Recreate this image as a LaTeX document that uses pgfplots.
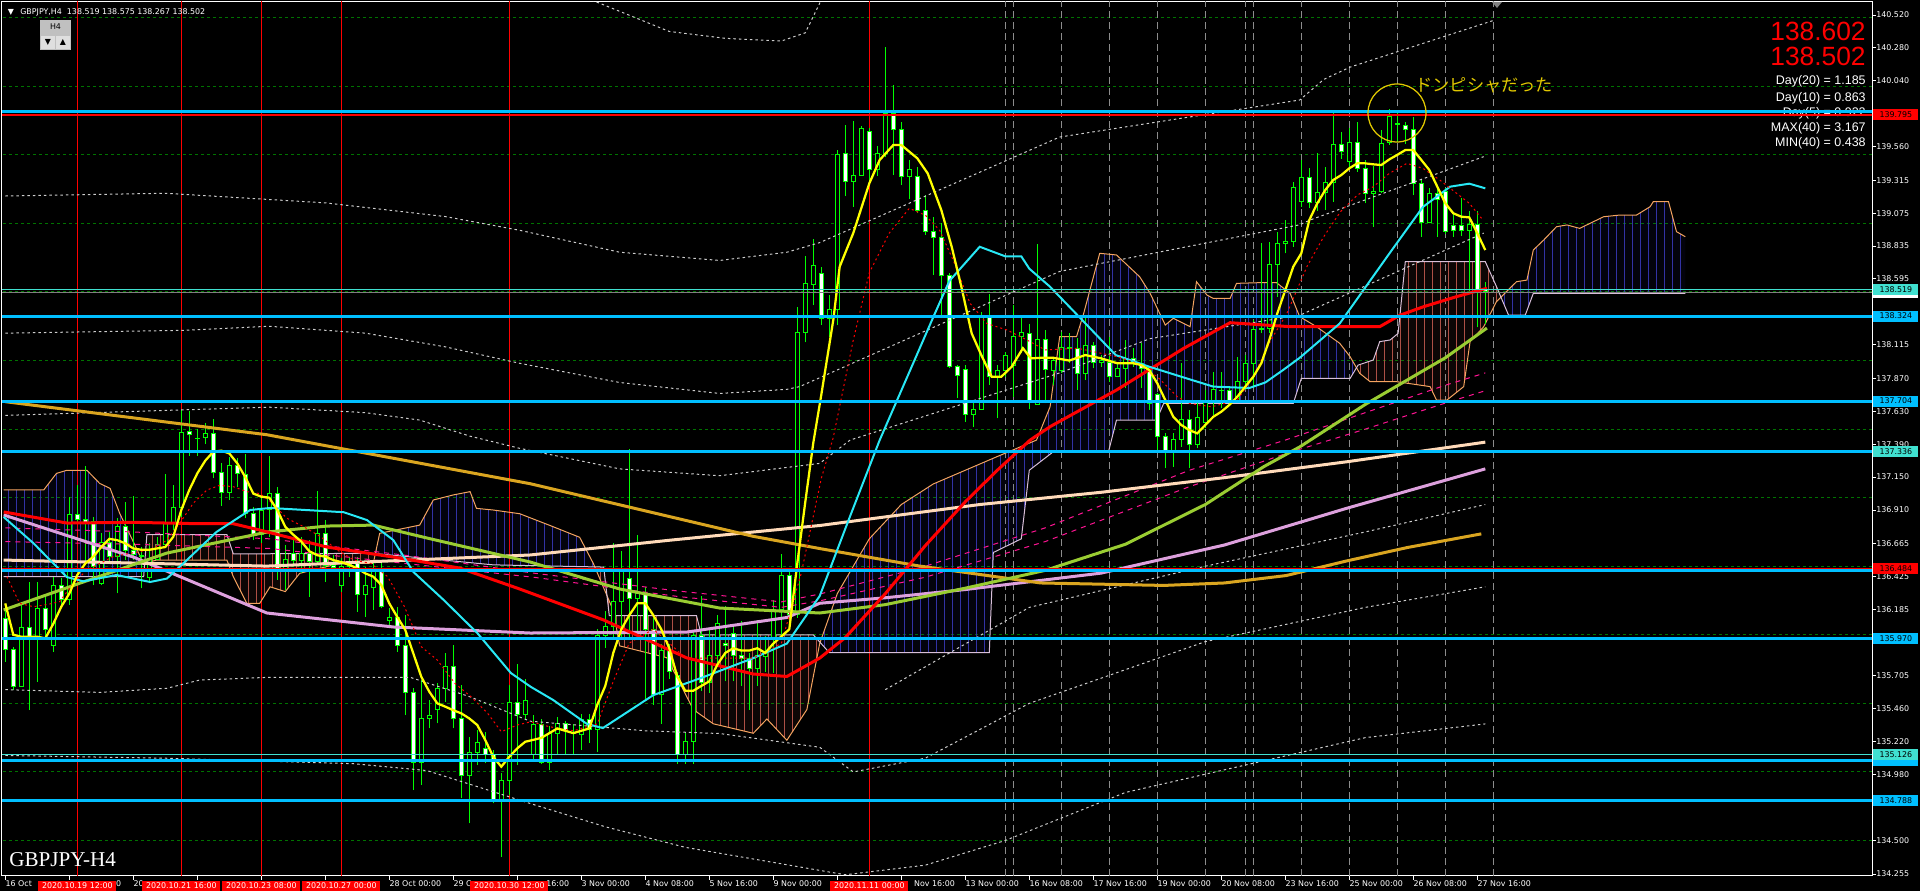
\documentclass[border=0pt]{standalone}
\usepackage{fontspec}
\setmainfont{DejaVu Sans}
\newfontfamily\arialf{Liberation Sans}
\newfontfamily\timesf{Liberation Serif}
\newfontfamily\jpf{Noto Sans CJK JP}
\usepackage{pgfplots}
\usepackage{pgfplotstable}
\pgfplotsset{compat=1.18}
\usetikzlibrary{patterns.meta}

\definecolor{wick}{RGB}{0,255,0}
\definecolor{ma5}{RGB}{255,255,0}
\definecolor{macy}{RGB}{40,232,245}
\definecolor{olive2}{RGB}{154,205,50}
\definecolor{gold2}{RGB}{218,165,32}
\definecolor{peach}{RGB}{255,218,185}
\definecolor{plum2}{RGB}{221,160,221}
\definecolor{dpink}{RGB}{255,20,147}
\definecolor{spanA}{RGB}{244,164,96}
\definecolor{spanB}{RGB}{216,191,216}
\definecolor{kumoblue}{RGB}{50,50,165}
\definecolor{kumored}{RGB}{175,80,70}
\definecolor{hcyan}{RGB}{0,191,255}
\definecolor{turq}{RGB}{64,224,208}
\definecolor{gridg}{RGB}{0,115,0}
\definecolor{bbw}{RGB}{205,205,205}
\definecolor{sepgray}{RGB}{140,140,140}
\definecolor{jpy}{RGB}{225,200,0}
\definecolor{boxgray}{RGB}{192,192,192}

\newcommand{\tickf}{\fontsize{4.5}{5}\selectfont}

% H4 candles: bar index, open, high, low, close
\pgfplotstableread{
i o h l c
0 136.120 136.181 135.804 135.894
1 135.894 135.913 135.597 135.626
2 135.626 136.229 135.622 136.054
3 136.052 136.387 135.451 135.986
4 135.986 136.387 135.658 136.193
5 136.193 136.278 135.986 136.035
6 135.925 136.424 135.877 136.358
7 136.358 136.412 136.205 136.258
8 136.258 137.007 136.217 136.878
9 136.878 137.092 136.813 136.842
10 136.842 137.231 136.521 136.818
11 136.825 136.861 136.363 136.497
12 136.375 136.740 136.363 136.674
13 136.674 136.752 136.521 136.570
14 136.570 136.849 136.302 136.788
15 136.788 136.966 136.545 136.618
16 136.618 137.012 136.545 136.582
17 136.574 136.643 136.339 136.580
18 136.419 136.667 136.375 136.557
19 136.550 136.716 136.545 136.655
20 136.655 137.173 136.643 136.818
21 136.818 137.092 136.764 136.929
22 136.929 137.639 136.861 137.476
23 137.484 137.632 137.304 137.462
24 137.435 137.498 137.304 137.428
25 137.440 137.542 137.391 137.469
26 137.469 137.571 137.141 137.182
27 137.182 137.250 136.942 137.036
28 137.036 137.299 136.983 137.238
29 137.238 137.287 137.075 137.177
30 137.172 137.318 136.849 136.886
31 136.886 136.934 136.691 136.735
32 136.735 137.007 136.667 136.910
33 136.915 137.304 136.716 137.032
34 137.032 137.080 136.400 136.472
35 136.472 136.655 136.327 136.550
36 136.594 136.691 136.497 136.540
37 136.540 136.716 136.448 136.594
38 136.594 136.691 136.278 136.533
39 136.533 137.049 136.509 136.740
40 136.740 136.837 136.387 136.504
41 136.506 136.582 136.485 136.492
42 136.361 136.558 136.314 136.497
43 136.497 136.570 136.424 136.521
44 136.521 136.570 136.169 136.297
45 136.297 136.497 136.132 136.356
46 136.346 136.533 136.181 136.477
47 136.477 136.545 136.193 136.205
48 136.103 136.193 136.047 136.127
49 136.127 136.205 135.877 135.923
50 135.923 136.144 135.415 135.580
51 135.580 135.609 134.868 135.072
52 135.072 135.670 134.904 135.391
53 135.391 135.524 135.318 135.415
54 135.456 135.646 135.354 135.609
55 135.609 135.865 135.512 135.767
56 135.767 135.925 135.318 135.391
57 135.391 135.634 134.807 134.977
58 134.977 135.257 134.625 135.143
59 135.143 135.306 135.050 135.213
60 135.172 135.293 135.062 135.128
61 135.128 135.160 134.771 134.788
62 134.788 134.990 134.379 134.941
63 134.941 135.634 134.831 135.505
64 135.505 135.787 135.050 135.420
65 135.420 135.675 135.379 135.520
66 135.128 135.413 135.093 135.345
67 135.345 135.386 135.059 135.069
68 135.069 135.334 135.014 135.283
69 135.283 135.403 135.128 135.352
70 135.352 135.369 135.128 135.300
71 135.283 135.352 135.128 135.290
72 135.276 135.420 135.162 135.379
73 135.379 135.420 135.214 135.310
74 135.310 136.040 135.145 135.998
75 135.998 136.177 135.902 136.057
76 136.057 136.666 135.971 136.246
77 136.246 136.608 135.971 136.480
78 136.411 137.354 135.971 136.263
79 136.263 136.728 135.971 136.298
80 136.298 136.349 135.523 136.040
81 136.040 136.126 135.489 135.565
82 135.565 135.936 135.352 135.885
83 135.885 135.936 135.678 135.730
84 135.702 135.730 135.059 135.128
85 135.128 135.283 135.059 135.221
86 135.221 136.022 135.059 135.998
87 135.998 136.281 135.592 135.654
88 135.654 136.040 135.575 135.850
89 135.850 136.143 135.782 136.081
90 135.936 136.212 135.661 135.919
91 136.012 136.057 135.661 135.850
92 135.850 136.101 135.627 135.826
93 135.826 135.868 135.455 135.757
94 135.757 136.108 135.627 135.850
95 135.840 135.988 135.730 135.874
96 135.964 136.253 135.723 136.184
97 136.184 136.590 135.971 136.435
98 136.435 136.487 136.108 136.150
99 136.150 138.387 136.126 138.201
100 138.201 138.765 138.132 138.559
101 138.556 138.884 138.405 138.694
102 138.636 138.685 138.259 138.308
103 138.308 138.478 138.174 138.369
104 138.369 139.535 138.259 139.504
105 139.511 139.718 139.200 139.305
106 139.305 139.747 139.122 139.353
107 139.353 139.710 139.346 139.693
108 139.669 139.693 139.280 139.390
109 139.390 139.565 139.346 139.511
110 139.511 140.284 139.482 139.803
111 139.803 140.010 139.353 139.686
112 139.686 139.742 139.280 139.341
113 139.341 139.463 139.178 139.390
114 139.341 139.414 139.078 139.093
115 139.093 139.207 138.916 138.940
116 138.940 139.049 138.624 138.899
117 138.899 139.001 138.308 138.617
118 138.617 138.636 137.943 137.955
119 137.955 137.967 137.724 137.890
120 137.936 137.967 137.554 137.603
121 137.603 137.712 137.518 137.644
122 137.644 138.356 137.639 138.313
123 138.313 138.485 137.822 137.887
124 137.882 137.967 137.578 137.926
125 137.926 138.065 137.882 138.040
126 137.967 138.405 137.736 138.179
127 138.174 138.325 138.053 138.206
128 138.198 138.266 137.644 137.693
129 137.683 138.850 137.676 138.155
130 138.155 138.223 137.688 137.936
131 137.931 138.028 137.822 138.004
132 137.926 138.210 137.907 138.096
133 138.096 138.203 137.979 138.089
134 138.089 138.162 137.785 137.907
135 137.907 138.320 137.858 138.113
136 138.108 138.137 137.943 137.987
137 137.987 138.040 137.955 138.004
138 137.987 138.169 137.846 137.887
139 137.887 137.979 137.877 137.943
140 137.943 138.150 137.797 138.016
141 138.016 138.089 137.955 137.992
142 137.979 138.125 137.797 137.943
143 137.948 137.955 137.639 137.688
144 137.753 137.761 137.335 137.445
145 137.445 137.469 137.214 137.328
146 137.328 137.469 137.226 137.425
147 137.425 137.979 137.372 137.571
148 137.571 137.639 137.214 137.391
149 137.391 137.712 137.360 137.586
150 137.547 137.785 137.505 137.693
151 137.693 137.919 137.603 137.790
152 137.780 137.919 137.651 137.785
153 137.780 137.809 137.676 137.712
154 137.712 138.028 137.700 137.846
155 137.846 138.040 137.785 137.979
156 137.979 138.296 137.809 138.227
157 138.223 138.855 138.198 138.235
158 138.235 138.867 138.198 138.697
159 138.697 138.940 138.466 138.855
160 138.855 139.025 138.782 138.867
161 138.867 139.304 138.830 139.263
162 139.159 139.463 139.122 139.336
163 139.336 139.402 139.110 139.151
164 139.151 139.511 139.093 139.224
165 139.224 139.414 139.098 139.297
166 139.297 139.815 139.159 139.577
167 139.577 139.669 139.470 139.528
168 139.455 139.693 139.407 139.591
169 139.591 139.742 139.377 139.402
170 139.402 139.463 139.147 139.215
171 139.215 139.421 138.976 139.232
172 139.232 139.681 139.219 139.584
173 139.589 139.832 139.572 139.783
174 139.720 139.808 139.596 139.730
175 139.713 139.737 139.579 139.686
176 139.686 139.774 139.207 139.288
177 139.288 139.317 138.903 139.006
178 139.006 139.256 139.001 139.215
179 139.215 139.256 138.903 139.176
180 139.232 139.256 138.923 138.940
181 138.984 139.086 138.903 138.947
182 138.984 139.183 138.908 138.952
183 138.952 139.091 138.510 138.993
184 138.993 139.091 138.242 138.515
185 138.519 138.575 138.267 138.502
}\candles

\pgfplotsset{
  mt4/.style={
    scale only axis, width=374mm, height=174.8mm,
    at={(0.4mm,3mm)}, anchor=south west,
    xmin=-0.41, xmax=233.34, ymin=134.241, ymax=140.615,
  },
  hidden/.style={mt4, hide axis},
  kumo/.style={draw=none,fill=#1,fill opacity=0.08,
    postaction={pattern={Lines[angle=90,distance=1.6mm,line width=0.2mm]},pattern color=#1}},
}

\begin{document}
\begin{tikzpicture}
\fill[black] (0,0) rectangle (384mm,178.2mm);

% frame, grid, separators, ichimoku cloud, wicks
\begin{axis}[mt4,
  axis line style={white,line width=0.2mm},
  xtick={0,8,...,184},
  xticklabels={16 Oct,\hphantom{19 Oct 08:0}0,20,,,,28 Oct 00:00,29 O,\hphantom{30 Oct }16:00,3 Nov 00:00,4 Nov 08:00,5 Nov 16:00,9 Nov 00:00,,\hphantom{11 }Nov 16:00,13 Nov 00:00,16 Nov 08:00,17 Nov 16:00,19 Nov 00:00,20 Nov 08:00,23 Nov 16:00,25 Nov 00:00,26 Nov 08:00,27 Nov 16:00},
  ytick={134.255,134.5,134.98,135.22,135.46,135.705,136.185,136.425,136.665,136.91,137.15,137.39,137.63,137.87,138.115,138.595,138.835,139.075,139.315,139.56,140.04,140.28,140.52},
  scaled y ticks=false,
  xtick pos=bottom, ytick pos=right, yticklabel pos=right,
  tick align=outside, major tick length=0.8mm,
  tick style={white,line width=0.2mm},
  tick label style={font=\tickf,text=white},
  xticklabel style={anchor=north west,inner sep=0pt},
  yticklabel style={anchor=west,inner sep=0pt,/pgf/number format/fixed,/pgf/number format/fixed zerofill,/pgf/number format/precision=3},
  /pgf/number format/assume math mode=true,
]
\pgfplotsinvokeforeach{134.5,135,135.5,136,136.5,137,137.5,138,138.5,139,139.5,140,140.5}{
  \draw[gridg,line width=0.2mm,dash pattern=on 0.6mm off 0.6mm] (axis cs:-1,#1) -- (axis cs:240,#1);}
\pgfplotsinvokeforeach{125,126,132,138,144,150,155,156,162,168,174,180,186}{
  \draw[sepgray,line width=0.2mm,dash pattern=on 1.4mm off 0.8mm] (axis cs:#1,134) -- (axis cs:#1,141);}
\pgfplotsinvokeforeach{9,22,32,42,63,108}{
  \draw[red,line width=0.2mm] (axis cs:#1,134) -- (axis cs:#1,141);}

% ichimoku cloud: span A forward, span B back, one polygon per colour segment
\addplot[kumo=kumoblue] coordinates {(-0.2,137.056)(4.8,137.056)(6.4,137.177)(7.7,137.2)(10.2,137.2)(11.8,137.104)(13.1,137.068)(14.3,136.886)(17.3,136.52)(17.43,136.523)(17.3,136.424)(-0.2,136.424)};
\addplot[kumo=kumored] coordinates {(17.43,136.523)(18.9,136.545)(27.7,136.545)(28.5,136.424)(30.2,136.229)(31.8,136.229)(33.1,136.35)(35,136.315)(36.8,136.448)(41.8,136.521)(46,136.521)(46.27,136.594)(46,136.594)(28.5,136.59)(27.7,136.73)(17.7,136.73)};
\addplot[kumo=kumoblue] coordinates {(46.27,136.594)(46.8,136.74)(51.8,136.8)(53.5,136.983)(56,137.02)(58.1,137.044)(58.9,136.922)(61,136.91)(64.3,136.883)(68.1,136.797)(71.8,136.711)(73.5,136.521)(73.69,136.495)(61,136.51)};
\addplot[kumo=kumored] coordinates {(73.69,136.495)(76,136.177)(76.8,135.919)(82.7,135.833)(86,135.455)(88.5,135.351)(93.5,135.282)(95.2,135.386)(97.7,135.231)(100.2,135.455)(101.8,135.936)(101.85,135.945)(101,136.0)(87,136.0)(86.4,136.14)(75.5,136.14)(74.8,136.494)};
\addplot[kumo=kumoblue] coordinates {(101.85,135.945)(104,136.3)(108,136.7)(112,136.95)(116,137.1)(120,137.2)(124,137.3)(128.9,137.42)(130.6,137.663)(131.8,138.174)(133.9,138.174)(134.8,138.344)(136.8,138.782)(138.9,138.77)(141.8,138.611)(143.1,138.49)(145,138.259)(146,138.308)(148.1,138.247)(148.9,138.575)(150.2,138.478)(151,138.453)(153.1,138.453)(153.9,138.563)(156.8,138.568)(158.9,138.568)(160.6,138.49)(161.8,138.32)(163.9,138.247)(166.8,138.126)(168.1,138.028)(168.9,137.947)(168.1,137.87)(162,137.87)(161,137.688)(144.8,137.688)(143.9,137.566)(138.9,137.566)(137.9,137.335)(131,137.335)(128,137.2)(127,136.7)(123.5,136.6)(123,135.87)(103,135.87)};
\addplot[kumo=kumored] coordinates {(168.9,137.947)(169.3,137.907)(170.6,137.846)(173.9,137.846)(178.1,137.81)(178.9,137.712)(180.2,137.712)(182.3,137.81)(183.1,138.138)(184.8,138.247)(186.4,138.43)(186.96,138.462)(186.4,138.539)(185,138.721)(175,138.721)(174.1,138.198)(173.1,138.15)(171.8,138.138)(171,138.004)(169.1,137.967)};
\addplot[kumo=kumoblue] coordinates {(186.96,138.462)(188.9,138.575)(190.2,138.587)(191,138.806)(192.3,138.879)(193.9,138.976)(195.2,138.989)(196.8,138.964)(198.1,139.001)(199.8,139.049)(201.8,139.061)(203.9,139.061)(205.6,139.122)(206,139.159)(207.9,139.159)(208.9,138.94)(210,138.903)(210,138.49)(191,138.49)(190,138.332)(187.9,138.332)};
% ichimoku span A / span B
\addplot[spanA,line width=0.2mm] coordinates {
(-0.2,137.056)(4.8,137.056)(6.4,137.177)(7.7,137.2)(10.2,137.2)(11.8,137.104)(13.1,137.068)(14.3,136.886)(17.3,136.52)(18.9,136.545)(27.7,136.545)(28.5,136.424)(30.2,136.229)(31.8,136.229)(33.1,136.35)(35,136.315)(36.8,136.448)(41.8,136.521)(46,136.521)(46.8,136.74)(51.8,136.8)(53.5,136.983)(56,137.02)(58.1,137.044)(58.9,136.922)(61,136.91)(64.3,136.883)(68.1,136.797)(71.8,136.711)(73.5,136.521)(76,136.177)(76.8,135.919)(82.7,135.833)(86,135.455)(88.5,135.351)(93.5,135.282)(95.2,135.386)(97.7,135.231)(100.2,135.455)(101.8,135.936)(104,136.3)(108,136.7)(112,136.95)(116,137.1)(120,137.2)(124,137.3)(128.9,137.42)(130.6,137.663)(131.8,138.174)(133.9,138.174)(134.8,138.344)(136.8,138.782)(138.9,138.77)(141.8,138.611)(143.1,138.49)(145,138.259)(146,138.308)(148.1,138.247)(148.9,138.575)(150.2,138.478)(151,138.453)(153.1,138.453)(153.9,138.563)(156.8,138.568)(158.9,138.568)(160.6,138.49)(161.8,138.32)(163.9,138.247)(166.8,138.126)(168.1,138.028)(169.3,137.907)(170.6,137.846)(173.9,137.846)(178.1,137.81)(178.9,137.712)(180.2,137.712)(182.3,137.81)(183.1,138.138)(184.8,138.247)(186.4,138.43)(188.9,138.575)(190.2,138.587)(191,138.806)(192.3,138.879)(193.9,138.976)(195.2,138.989)(196.8,138.964)(198.1,139.001)(199.8,139.049)(201.8,139.061)(203.9,139.061)(205.6,139.122)(206,139.159)(207.9,139.159)(208.9,138.94)(210,138.903)};
\addplot[spanB,line width=0.2mm] coordinates {
(-0.2,136.424)(17.3,136.424)(17.7,136.73)(27.7,136.73)(28.5,136.59)(46,136.594)(61,136.51)(74.8,136.494)(75.5,136.14)(86.4,136.14)(87,136.0)(101,136.0)(103,135.87)(123,135.87)(123.5,136.6)(127,136.7)(128,137.2)(131,137.335)(137.9,137.335)(138.9,137.566)(143.9,137.566)(144.8,137.688)(161,137.688)(162,137.87)(168.1,137.87)(169.1,137.967)(171,138.004)(171.8,138.138)(173.1,138.15)(174.1,138.198)(175,138.721)(185,138.721)(186.4,138.539)(187.9,138.332)(190,138.332)(191,138.49)(210,138.49)};

% wicks
\addplot[draw=none,error bars/.cd,y dir=plus,y explicit,error mark=none,
  error bar style={draw=wick,line width=0.2mm}]
  table[x=i,y=l,y error plus expr={\thisrow{h}-\thisrow{l}}] {\candles};
\end{axis}

% candle bodies as floating stacked bars
\begin{axis}[hidden, ybar stacked, bar width=0.85mm]
\addplot[draw=none,fill=none] table[x=i,y expr={min(\thisrow{o},\thisrow{c})}] {\candles};
\addplot[draw=wick,fill=black,line width=0.2mm] table[x=i,y expr={max(\thisrow{c}-\thisrow{o},0)}] {\candles};
\addplot[draw=wick,fill=white,line width=0.2mm] table[x=i,y expr={max(\thisrow{o}-\thisrow{c},0)}] {\candles};
\end{axis}

\begin{scope}[x=0.2mm,y=0.2mm]
\node[anchor=east,inner sep=0pt,text=red,font=\arialf\fontsize{15}{16}\selectfont] at (1866,860) {138.602};
\node[anchor=east,inner sep=0pt,text=red,font=\arialf\fontsize{15}{16}\selectfont] at (1866,835) {138.502};
\node[anchor=east,inner sep=0pt,text=white,font=\arialf\fontsize{7.1}{8}\selectfont] at (1866,809.3) {Day(20) = 1.185};
\node[anchor=east,inner sep=0pt,text=white,font=\arialf\fontsize{7.1}{8}\selectfont] at (1866,792.7) {Day(10) = 0.863};
\node[anchor=east,inner sep=0pt,text=white,font=\arialf\fontsize{7.1}{8}\selectfont] at (1866,777.7) {Day(5) = 0.922};
\node[anchor=east,inner sep=0pt,text=white,font=\arialf\fontsize{7.1}{8}\selectfont] at (1866,762.7) {MAX(40) = 3.167};
\node[anchor=east,inner sep=0pt,text=white,font=\arialf\fontsize{7.1}{8}\selectfont] at (1866,747.7) {MIN(40) = 0.438};
\end{scope}

% moving averages, bands, price lines
\begin{axis}[hidden]
\pgfplotsset{every axis plot/.append style={no markers}}
% bands
\addplot[bbw,line width=0.2mm,dash pattern=on 0.5mm off 0.6mm] coordinates {(72,140.66)(83,140.40)(90,140.35)(97,140.33)(100,140.39)(103,140.75)};
\addplot[bbw,line width=0.2mm,dash pattern=on 0.5mm off 0.6mm] coordinates {(0,139.20)(20,139.22)(40,139.15)(55,139.05)(64.3,138.95)(76.8,138.79)(89.3,138.73)(97.7,138.79)(101.8,138.86)(131.8,139.63)(161.8,139.90)(164.8,140.05)(168.1,140.14)(186,140.48)};
\addplot[bbw,line width=0.2mm,dash pattern=on 0.5mm off 0.6mm] coordinates {(0,138.20)(22,138.22)(33,138.25)(45,138.20)(55,138.10)(64.3,137.98)(76.8,137.84)(89.3,137.76)(97.7,137.79)(99.3,137.81)(131.8,138.65)(161.8,138.99)(163.1,139.025)(184.8,139.487)};
\addplot[bbw,line width=0.2mm,dash pattern=on 0.5mm off 0.6mm] coordinates {(0,137.60)(22,137.64)(33,137.66)(45,137.62)(51.8,137.566)(58,137.45)(64.3,137.36)(76.8,137.21)(89.3,137.16)(101.8,137.25)(105.6,137.42)(131.8,137.91)(143.1,138.16)(161.8,138.33)(184.8,138.93)};
\addplot[bbw,line width=0.2mm,dash pattern=on 0.5mm off 0.6mm] coordinates {(0,135.60)(11.8,135.58)(20.2,135.61)(24.3,135.67)(33,135.69)(50.6,135.69)(58,135.55)(65.6,135.37)(80,135.30)(89.3,135.28)(101.8,135.18)(106,135.0)(115,135.1)(128,135.5)(150,135.95)(170,136.2)(185,136.35)};
\addplot[bbw,line width=0.2mm,dash pattern=on 0.5mm off 0.6mm] coordinates {(0,135.12)(20,135.10)(43.5,135.06)(52.7,135.01)(65.6,134.77)(75,134.60)(85,134.45)(95,134.35)(105,134.25)(115,134.32)(125,134.5)(140,134.85)(155,135.05)(170,135.25)(185,135.35)};
\addplot[bbw,line width=0.2mm,dash pattern=on 0.5mm off 0.6mm] coordinates {(110,135.6)(128,136.2)(150,136.5)(170,136.75)(185,136.95)};
% pink dashed
\addplot[dpink,line width=0.2mm,dash pattern=on 1mm off 1mm] coordinates {(0,136.78)(16,136.75)(33,136.70)(50,136.58)(66,136.45)(84,136.32)(97,136.24)(102,136.30)(115,136.50)(130,136.78)(148,137.20)(160,137.42)(170,137.62)(180,137.82)(185,137.91)};
\addplot[dpink,line width=0.2mm,dash pattern=on 1mm off 1mm] coordinates {(0,136.68)(16,136.66)(33,136.63)(50,136.52)(66,136.42)(84,136.28)(97,136.20)(102,136.25)(115,136.42)(130,136.68)(148,137.08)(160,137.32)(170,137.50)(180,137.69)(185,137.78)};
% slow averages
\addplot[plum2,line width=0.6mm] coordinates {(-0.2,136.874)(16,136.567)(32.7,136.159)(48.5,136.057)(65.6,136.013)(85.2,136.02)(97.7,136.126)(101.8,136.23)(110,136.27)(120,136.33)(137,136.45)(152.4,136.655)(167.7,136.923)(185,137.21)};
\addplot[peach,line width=0.6mm] coordinates {(-0.2,136.545)(32.7,136.501)(65.6,136.582)(83.1,136.69)(101.8,136.797)(121.8,136.95)(137.1,137.04)(152.4,137.146)(167.7,137.262)(185,137.405)};
\addplot[gold2,line width=0.6mm] coordinates {(0,137.700)(32.7,137.459)(65.6,137.102)(93.5,136.718)(101.9,136.628)(114.1,136.503)(129.4,136.378)(144.8,136.360)(152.4,136.378)(160.1,136.432)(167.7,136.539)(175.3,136.637)(184.5,136.736)};
\addplot[olive2,line width=0.6mm] coordinates {(-0.2,136.181)(9.75,136.385)(20.2,136.596)(32.7,136.749)(40.2,136.793)(46,136.80)(52.7,136.706)(65.6,136.531)(76.8,136.334)(89.3,136.195)(101.8,136.159)(110,136.22)(120,136.34)(130,136.47)(140,136.66)(150,136.95)(157.3,137.226)(161.8,137.37)(170,137.68)(180,138.02)(185.2,138.237)};
\addplot[red,line width=0.6mm] coordinates {(-0.2,136.896)(7.7,136.815)(16,136.82)(24.3,136.81)(28.5,136.81)(31.8,136.764)(40.2,136.64)(48.5,136.567)(56.8,136.487)(64.3,136.334)(74.8,136.108)(85.2,135.831)(93.5,135.714)(97.7,135.696)(101.8,135.83)(105,135.98)(110,136.3)(115,136.65)(120,136.97)(124,137.2)(128.1,137.42)(130.6,137.518)(138.9,137.785)(147.3,138.089)(153.1,138.276)(160.6,138.247)(171.8,138.247)(174.3,138.33)(177.3,138.393)(181.4,138.466)(185.2,138.527)};
\addplot[macy,line width=0.4mm] coordinates {(-0.2,136.859)(3.5,136.669)(7.7,136.421)(9.75,136.39)(13.9,136.436)(18.1,136.385)(20.2,136.41)(22.3,136.523)(26.4,136.75)(30.6,136.91)(33.1,136.925)(42.3,136.894)(45.2,136.837)(48.5,136.691)(51,136.459)(54.8,136.254)(59,136.013)(63.2,135.721)(65.7,135.62)(68.5,135.524)(72.7,135.35)(74.7,135.32)(81,135.56)(87.2,135.69)(93.5,135.83)(97.7,135.936)(101.8,136.283)(105.5,136.85)(109.3,137.42)(116,138.317)(118,138.58)(121.8,138.83)(125,138.76)(127,138.76)(128,138.67)(130.6,138.538)(134.7,138.29)(138.8,138.04)(143,137.955)(147,137.882)(151,137.81)(155.5,137.80)(157.5,137.84)(159.7,137.93)(161.8,138.02)(166.8,138.27)(173,138.78)(177.2,139.12)(180.6,139.268)(183,139.29)(185,139.256)};
\addplot[red,line width=0.2mm,dash pattern=on 0.4mm off 0.6mm] coordinates {(0.2,136.424)(1.8,136.229)(3.5,136.205)(5.2,136.22)(6.8,136.242)(8.5,136.375)(10.2,136.472)(11.8,136.52)(13.5,136.57)(15.2,136.59)(16.8,136.606)(18.5,136.63)(20.2,136.69)(21.8,136.813)(23.5,136.96)(25.2,137.056)(26.8,137.09)(28.5,137.08)(30.2,137.044)(31.8,137.03)(33,136.98)(35.2,136.85)(37.3,136.788)(39.4,136.716)(41.5,136.618)(43.6,136.545)(45.7,136.52)(47.8,136.424)(49.9,136.205)(52,135.913)(54,135.816)(56.2,135.646)(58.2,135.549)(60.3,135.427)(62,135.293)(64,135.342)(65.7,135.366)(68,135.33)(71,135.30)(74,135.35)(76,135.66)(78,135.94)(81,136.04)(83,135.94)(85,135.83)(89,135.83)(93.5,135.83)(97,135.936)(99.5,136.45)(102,137.14)(103.5,137.44)(106,138.15)(108,138.64)(110.5,138.93)(113,139.11)(115,139.06)(116.8,138.95)(118.5,138.73)(120.6,138.417)(122.7,138.27)(125.2,138.223)(127.7,138.15)(130,138.077)(134,138.09)(136,138.065)(139,138.028)(141.5,137.98)(144,137.882)(146.5,137.736)(148,137.687)(150.8,137.663)(154,137.712)(156,137.882)(158.2,138.15)(160.2,138.344)(162.7,138.685)(164.8,138.903)(166.9,139.086)(169,139.207)(171,139.268)(173,139.365)(175.2,139.438)(177.2,139.402)(179.3,139.317)(181.4,139.22)(183,139.147)(184.7,139.025)};
\addplot[ma5,line width=0.45mm] coordinates {(0,136.229)(1,136.000)(2,135.986)(4,135.986)(5,135.974)(6,136.08)(7,136.205)(8,136.30)(9,136.436)(10,136.52)(11,136.57)(12,136.64)(13,136.70)(14,136.69)(15,136.667)(16,136.63)(17,136.62)(18,136.62)(19,136.63)(20,136.64)(21,136.715)(22,136.91)(23,137.056)(24,137.177)(25,137.27)(26,137.335)(27,137.343)(28,137.323)(29,137.25)(30,137.15)(31,137.03)(32,137.007)(33,137.0)(34,136.91)(35,136.788)(36,136.73)(37,136.68)(38,136.61)(39,136.58)(40,136.57)(41,136.545)(42,136.53)(43,136.51)(44,136.485)(45,136.448)(46,136.424)(47,136.363)(48,136.229)(49,136.13)(50,136.035)(51,135.865)(52,135.694)(53,135.585)(54,135.50)(55,135.476)(56,135.45)(57,135.427)(58,135.39)(59,135.342)(60,135.232)(61,135.11)(62,135.038)(63,135.11)(64,135.172)(65,135.22)(67,135.248)(69,135.317)(71,135.283)(73,135.317)(74,135.49)(75,135.627)(76,135.868)(77,136.04)(78,136.143)(79,136.23)(80,136.23)(81,136.143)(82,136.04)(83,135.902)(84,135.695)(85,135.592)(86,135.592)(87,135.627)(88,135.661)(89,135.782)(90,135.868)(91,135.902)(92,135.885)(93,135.885)(94,135.902)(95,135.868)(96,135.936)(97,135.988)(98,136.04)(99,136.52)(100,136.969)(101,137.40)(102,137.75)(103.5,138.296)(104.3,138.685)(106,138.93)(108,139.292)(109.3,139.463)(111,139.572)(112,139.572)(114,139.475)(115.3,139.365)(117,139.098)(118.3,138.83)(119.5,138.54)(120.8,138.198)(122,138.04)(123.3,137.882)(124.5,137.882)(125.8,137.955)(127.2,138.09)(128.2,138.016)(129.5,138.02)(131,138.02)(133,138.0)(135,138.04)(137,138.016)(139,137.98)(141,137.98)(142,137.967)(143,137.93)(144,137.834)(145,137.712)(146,137.59)(147,137.53)(148,137.493)(149,137.469)(150,137.53)(151,137.59)(152,137.627)(153,137.676)(154,137.736)(155,137.81)(156,137.882)(157,137.98)(158,138.15)(159,138.344)(160,138.514)(161,138.685)(162,138.782)(163,139.025)(164,139.147)(165,139.244)(166,139.317)(167,139.353)(168,139.402)(169,139.438)(170,139.438)(171,139.431)(172,139.426)(173,139.467)(174,139.5)(175,139.535)(176,139.535)(177,139.463)(178,139.39)(179,139.268)(180,139.147)(181,139.074)(182,139.049)(183,139.044)(184,138.928)(185,138.806)};
% horizontal price lines
\addplot[turq,line width=0.2mm] coordinates {(-1,138.519)(240,138.519)};
\addplot[gray,line width=0.2mm] coordinates {(-1,138.499)(240,138.499)};
\addplot[turq,line width=0.2mm] coordinates {(-1,135.126)(240,135.126)};
\addplot[hcyan,line width=0.6mm] coordinates {(-1,139.815)(240,139.815)};
\addplot[red,line width=0.4mm] coordinates {(-1,139.788)(240,139.788)};
\addplot[hcyan,line width=0.6mm] coordinates {(-1,138.324)(240,138.324)};
\addplot[hcyan,line width=0.6mm] coordinates {(-1,137.704)(240,137.704)};
\addplot[hcyan,line width=0.6mm] coordinates {(-1,137.336)(240,137.336)};
\addplot[hcyan,line width=0.6mm] coordinates {(-1,136.472)(240,136.472)};
\addplot[red,line width=0.2mm] coordinates {(-1,136.487)(240,136.487)};
\addplot[hcyan,line width=0.6mm] coordinates {(-1,135.970)(240,135.970)};
\addplot[hcyan,line width=0.6mm] coordinates {(-1,135.080)(240,135.080)};
\addplot[hcyan,line width=0.6mm] coordinates {(-1,134.788)(240,134.788)};
\end{axis}

\begin{scope}[x=0.2mm,y=0.2mm]
% annotation
\draw[jpy,line width=0.25mm] (1397,778) circle (29);
\node[anchor=west,inner sep=0pt,text=jpy,font=\jpf\fontsize{9.8}{11}\selectfont] at (1415,806) {ドンピシャだった};
% header
\node[text=white,inner sep=0pt,font=\tickf] at (11,879) {▼};
\node[anchor=west,text=white,inner sep=0pt,font=\tickf] at (20,879) {GBPJPY,H4\ \ 138.519 138.575 138.267 138.502};
\fill[boxgray] (40,841) rectangle (71,871);
\node[inner sep=0pt,font=\tickf,text=black] at (55.5,864) {H4};
\fill[gray!25] (41,842) rectangle (55,855);
\fill[gray!25] (56,842) rectangle (70,855);
\node[inner sep=0pt,font=\tickf,text=black] at (48,848.5) {▼};
\node[inner sep=0pt,font=\tickf,text=black] at (63,848.5) {▲};
\fill[gray] (1492,889) -- (1502,889) -- (1497,883) -- cycle;
\node[anchor=base west,inner sep=0pt,text=white,font=\timesf\fontsize{12}{13}\selectfont] at (9,24) {GBPJPY-H4};
% price boxes on the right scale
\tikzset{pbox/.style={anchor=west,inner sep=0pt,minimum width=9mm,minimum height=2.2mm,text=black,font=\tickf}}
\node[pbox,fill=red] at (1873,776.6) {139.795};
\fill[white] (1873,592.5) rectangle (1918,597.5);
\node[pbox,fill=turq] at (1873,601.6) {138.519};
\node[pbox,fill=hcyan] at (1873,574.9) {138.324};
\node[pbox,fill=hcyan] at (1873,489.9) {137.704};
\node[pbox,fill=turq] at (1873,439.4) {137.336};
\node[pbox,fill=red] at (1873,322.6) {136.484};
\node[pbox,fill=hcyan] at (1873,252.1) {135.970};
\fill[hcyan] (1873,124.6) rectangle (1918,131);
\node[pbox,fill=turq] at (1873,136.4) {135.126};
\node[pbox,fill=hcyan] at (1873,90) {134.788};
% date boxes on the time scale
\tikzset{dbox/.style={inner sep=0pt,minimum width=15.6mm,minimum height=2.1mm,fill=red,text=white,font=\tickf}}
\node[dbox] at (77.3,5) {2020.10.19 12:00};
\node[dbox] at (181.3,5) {2020.10.21 16:00};
\node[dbox] at (261.3,5) {2020.10.23 08:00};
\node[dbox] at (341.3,5) {2020.10.27 00:00};
\node[dbox] at (509.3,5) {2020.10.30 12:00};
\node[dbox] at (869.3,5) {2020.11.11 00:00};
\end{scope}
\pgfresetboundingbox
\path[use as bounding box] (0,0) rectangle (384mm,178.2mm);
\end{tikzpicture}
\end{document}
